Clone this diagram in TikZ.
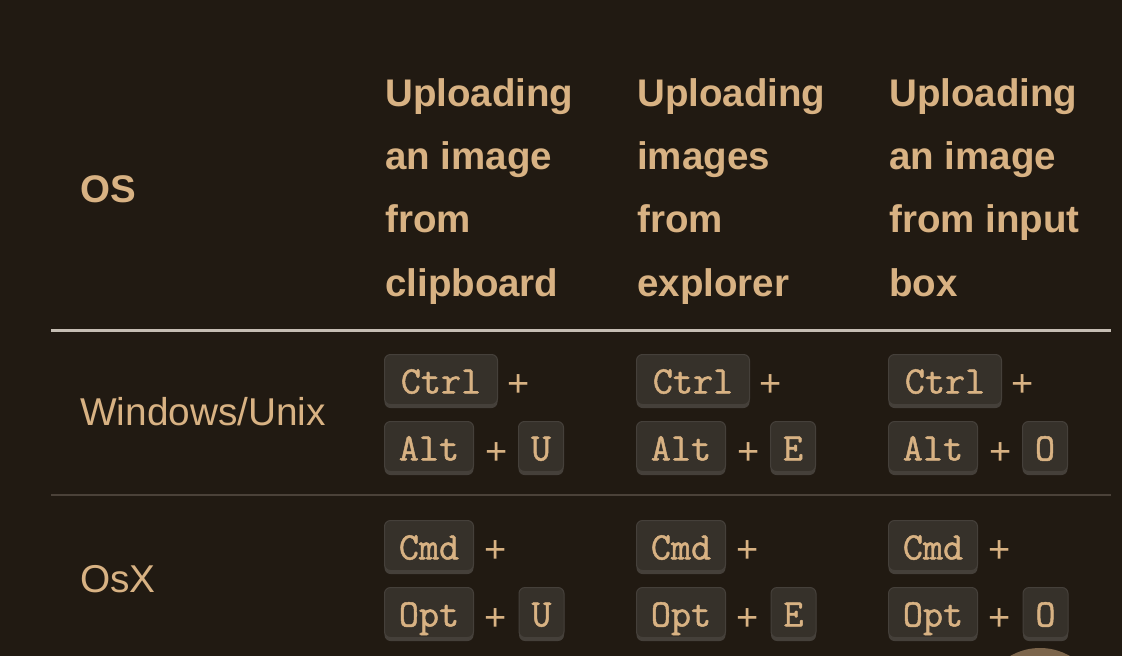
\documentclass[tikz,border=0pt]{standalone}
\usepackage{fontspec}
\setmainfont{Liberation Sans}
\newfontfamily\keyfont[FakeBold=1.2]{Latin Modern Mono}
\usepackage{tikz}
\usetikzlibrary{shapes,backgrounds}

\definecolor{pagebg}{HTML}{211A12}
\definecolor{ink}{HTML}{D8B283}
\definecolor{keyface}{HTML}{36312A}
\definecolor{keyedge}{HTML}{45403A}
\definecolor{headrule}{HTML}{C5BDB3}
\definecolor{rowrule}{HTML}{4B4239}
\definecolor{knob}{HTML}{7C654B}

\tikzset{
	headtext/.style={anchor=base west, inner sep=0pt, align=left, text=ink,
		font=\bfseries\fontsize{38.5}{63.3}\selectfont},
	celltext/.style={anchor=base west, inner sep=0pt, text=ink,
		font=\fontsize{38.8}{46}\selectfont},
	keybox/.style={anchor=north west, minimum width=#1, minimum height=50pt,
		inner sep=0pt, text height=28pt, text depth=0pt, text=ink,
		font=\keyfont\fontsize{39}{46}\selectfont,
		fill=keyface, draw=keyedge, line width=1pt, rounded corners=6pt,
		preaction={fill=keyedge, transform canvas={yshift=-3.5pt}}},
	plus/.style={anchor=base, inner sep=0pt, text=ink,
		font=\fontsize{38}{46}\selectfont}
}

\begin{document}
\begin{tikzpicture}[x=1pt,y=-1pt]

	%Page and background
	\useasboundingbox (0,0) rectangle (1122,656);
	\fill[pagebg] (0,0) rectangle (1122,656);

	%Column starts and row tops
	\pgfmathsetmacro{\ca}{80}
	\pgfmathsetmacro{\cb}{384}
	\pgfmathsetmacro{\cc}{636}
	\pgfmathsetmacro{\cd}{888}
	\pgfmathsetmacro{\ctrl}{354}
	\pgfmathsetmacro{\alt}{421}
	\pgfmathsetmacro{\cmd}{520}
	\pgfmathsetmacro{\opt}{587}

	%Header row (base anchor sits on the last line)
	\node[headtext] (os) at (\ca,202) {OS};
	\node[headtext] (hclip) at (\cb+1,296) {Uploading\\an image\\from\\clipboard};
	\node[headtext] (hexpl) at (\cc+1,296) {Uploading\\images\\from\\explorer};
	\node[headtext] (hinput) at (\cd+1,296) {Uploading\\an image\\from input\\box};

	%Rules below the header and between the rows
	\coordinate (hl) at (51,330);
	\coordinate (hr) at (1111,330);
	\coordinate (rl) at (51,495);
	\coordinate (rr) at (1111,495);
	\draw[headrule, line width=3pt] (hl) -- (hr);
	\draw[rowrule, line width=2.5pt] (rl) -- (rr);

	%Operating systems
	\node[celltext] (win) at (\ca,425) {Windows/Unix};
	\node[celltext] (mac) at (\ca,592) {OsX};

	%Key combinations, one column per action
	\foreach \x/\k/\n in {\cb/U/clip, \cc/E/expl, \cd/O/input}{
		\node[keybox=113pt] (ctrl\n) at (\x,\ctrl) {Ctrl};
		\node[plus] (pa\n) at (\x+134.5,396) {+};
		\node[keybox=89pt] (alt\n) at (\x,\alt) {Alt};
		\node[plus] (pb\n) at (\x+112.5,464) {+};
		\node[keybox=45pt] (wk\n) at (\x+134,\alt) {\k};

		\node[keybox=89pt] (cmd\n) at (\x,\cmd) {Cmd};
		\node[plus] (pc\n) at (\x+112,562) {+};
		\node[keybox=89pt] (opt\n) at (\x,\opt) {Opt};
		\node[plus] (pd\n) at (\x+112,630) {+};
		\node[keybox=45pt] (mk\n) at (\x+134.5,\opt) {\k};
	}

	%Round knob cut by the lower edge
	\fill[knob] (1040,708) circle (60);

\end{tikzpicture}
\end{document}
